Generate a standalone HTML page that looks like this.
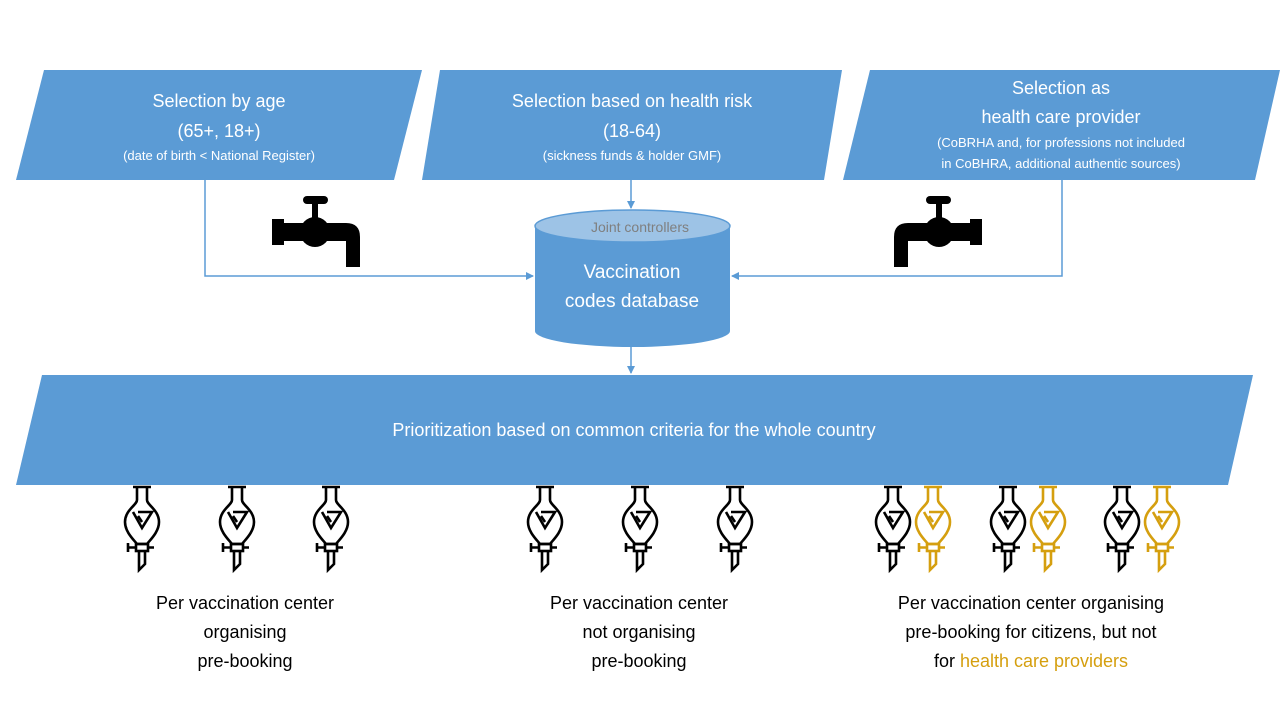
<!DOCTYPE html>
<html><head><meta charset="utf-8"><style>
body{margin:0;width:1280px;height:720px;background:#fff;overflow:hidden;font-family:"Liberation Sans",sans-serif}
svg text{font-family:"Liberation Sans",sans-serif}
</style></head><body>
<svg width="1280" height="720" viewBox="0 0 1280 720" xmlns="http://www.w3.org/2000/svg">
<defs>
<marker id="a" markerWidth="8" markerHeight="8" refX="7" refY="4" orient="auto" markerUnits="userSpaceOnUse"><path d="M0,0 L8,4 L0,8 z" fill="#5B9BD5"/></marker>
<g id="f" fill="none" stroke-width="2.6">
<path d="M-9,1 H9"/>
<path d="M-5,1 V14 C-5,19 -17,24 -17,36 C-17,46 -8,54 -5,58 H5 C8,54 17,46 17,36 C17,24 5,19 5,14 V1"/>
<path d="M-4,26 H10 L0,42 L-9,26"/>
<path d="M-4,30 L0,36"/>
<rect x="-6" y="58" width="12" height="7"/>
<path d="M-6,61.5 H-14 M-14,57 V66 M6,61.5 H12"/>
<path d="M-3,65 V84 L3,78 V65"/>
</g>
<g id="tap"><rect x="0" y="23" width="12" height="26"/><rect x="10" y="27" width="30" height="18"/><circle cx="43" cy="36" r="15"/><rect x="40" y="8" width="6" height="16"/><rect x="31" y="0" width="25" height="8" rx="4"/><path d="M45,27 H74 Q88,27 88,41 V71 H74 V45 H45 z"/></g>
</defs>
<g fill="#5B9BD5">
<polygon points="44,70 422,70 394,180 16,180"/>
<polygon points="440,70 842,70 824,180 422,180"/>
<polygon points="870,70 1280,70 1255,180 843,180"/>
<polygon points="42,375 1253,375 1228,485 16,485"/>
<path d="M535,226 V331 A97.5,16 0 0 0 730,331 V226 z"/>
</g>
<ellipse cx="632.5" cy="226" rx="97.5" ry="16" fill="#9DC3E6" stroke="#5B9BD5" stroke-width="1.5"/>
<g stroke="#5B9BD5" stroke-width="1.5" fill="none">
<path d="M205,180 V276 H533" marker-end="url(#a)"/>
<path d="M1062,180 V276 H732" marker-end="url(#a)"/>
<path d="M631,180 V208" marker-end="url(#a)"/>
<path d="M631,347 V373" marker-end="url(#a)"/>
</g>
<g fill="#000">
<use href="#tap" transform="translate(272,196)"/>
<use href="#tap" transform="translate(982,196) scale(-1,1)"/>
</g>
<g fill="#fff" text-anchor="middle">
<text x="219" y="107" font-size="18">Selection by age</text>
<text x="219" y="137" font-size="18">(65+, 18+)</text>
<text x="219" y="160" font-size="13">(date of birth &lt; National Register)</text>
<text x="632" y="107" font-size="18">Selection based on health risk</text>
<text x="632" y="137" font-size="18">(18-64)</text>
<text x="632" y="160" font-size="13">(sickness funds &amp; holder GMF)</text>
<text x="1061" y="94" font-size="18">Selection as</text>
<text x="1061" y="123" font-size="18">health care provider</text>
<text x="1061" y="147" font-size="13">(CoBRHA and, for professions not included</text>
<text x="1061" y="168" font-size="13">in CoBHRA, additional authentic sources)</text>
<text x="632" y="278" font-size="19">Vaccination</text>
<text x="632" y="307" font-size="19">codes database</text>
<text x="634" y="436" font-size="18">Prioritization based on common criteria for the whole country</text>
</g>
<text x="640" y="232" font-size="14" fill="#7f7f7f" text-anchor="middle">Joint controllers</text>
<g stroke="#000">
<use href="#f" transform="translate(142,486)"/><use href="#f" transform="translate(237,486)"/><use href="#f" transform="translate(331,486)"/>
<use href="#f" transform="translate(545,486)"/><use href="#f" transform="translate(640,486)"/><use href="#f" transform="translate(735,486)"/>
<use href="#f" transform="translate(893,486)"/><use href="#f" transform="translate(1008,486)"/><use href="#f" transform="translate(1122,486)"/>
</g>
<g stroke="#D59F0F">
<use href="#f" transform="translate(933,486)"/><use href="#f" transform="translate(1048,486)"/><use href="#f" transform="translate(1162,486)"/>
</g>
<g fill="#000" font-size="18" text-anchor="middle">
<text x="245" y="609">Per vaccination center</text>
<text x="245" y="638">organising</text>
<text x="245" y="667">pre-booking</text>
<text x="639" y="609">Per vaccination center</text>
<text x="639" y="638">not organising</text>
<text x="639" y="667">pre-booking</text>
<text x="1031" y="609">Per vaccination center organising</text>
<text x="1031" y="638">pre-booking for citizens, but not</text>
<text x="1031" y="667">for <tspan fill="#D59F0F">health care providers</tspan></text>
</g>
</svg>
</body></html>
